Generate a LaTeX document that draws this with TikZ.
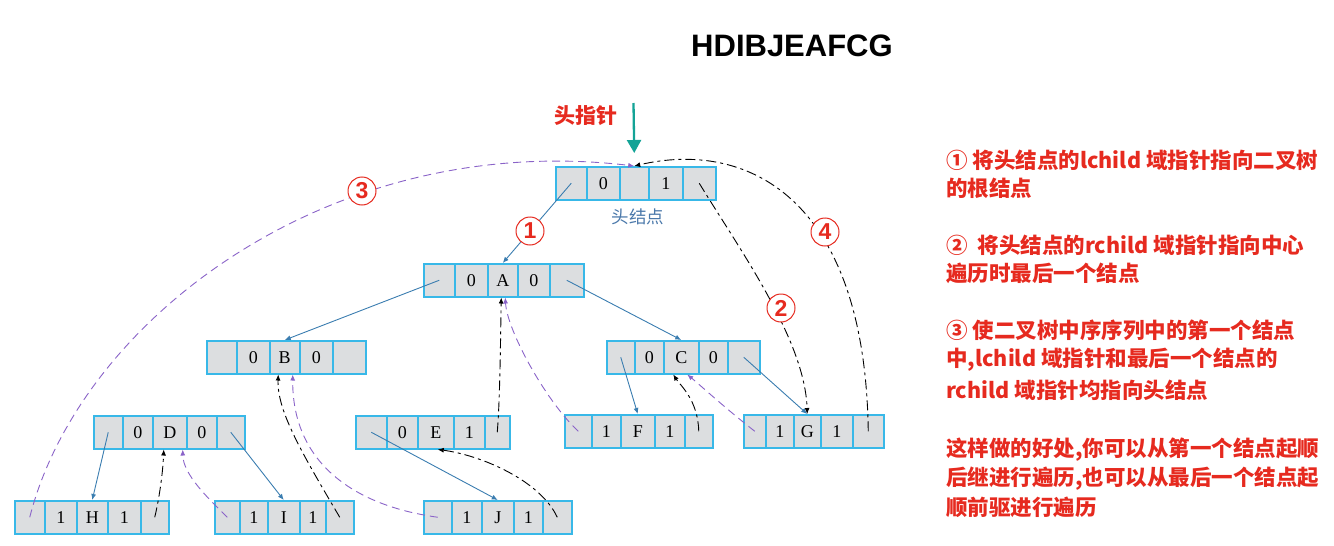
\documentclass[tikz,border=0pt]{standalone}
\usepackage{fontspec}
\setmainfont{Liberation Serif}
\newfontfamily\sans{Liberation Sans}
\newfontfamily\cjk{Noto Sans CJK SC}
\usetikzlibrary{arrows.meta}
\definecolor{cellfill}{HTML}{DCDEE0}
\definecolor{cellline}{HTML}{38B8E8}
\definecolor{treeblue}{HTML}{3A7DB0}
\definecolor{thrpurple}{HTML}{8A63C8}
\definecolor{hred}{HTML}{E62A1F}
\definecolor{tealarrow}{HTML}{13A396}
\definecolor{capblue}{HTML}{4A78AA}
\newcommand\rec[3]{\foreach \i/\a/\b/\t in {#3}{\node[cell, minimum width={(\b-\a)*1pt}, anchor=north west] (#1-\i) at (\a,#2) {\t};}}
\begin{document}
\begin{tikzpicture}[x=1pt,y=-1pt,
 cell/.style={draw=cellline, fill=cellfill, line width=1.5pt, minimum height=33pt, inner sep=0pt, font=\fontsize{18}{18}\selectfont},
 tree/.style={treeblue, line width=0.9pt, -{Latex[length=6pt,width=5pt]}},
 succ/.style={black, line width=0.9pt, dash pattern=on 10pt off 4pt on 3pt off 4pt, -{Latex[length=6pt,width=5pt]}},
 pred/.style={thrpurple, line width=0.9pt, dash pattern=on 8pt off 5pt, -{Latex[length=6pt,width=5pt]}},
 circ/.style={circle, draw=hred, fill=white, line width=1pt, minimum size=28pt, inner sep=0pt, text=hred, font=\sans\bfseries\fontsize{23}{23}\selectfont},
 note/.style={anchor=west, text=hred, font=\cjk\bfseries\fontsize{21.5}{21.5}\selectfont, inner sep=0pt}]

\useasboundingbox (0,0) rectangle (1334,546);

% title
\node[font=\sans\bfseries\fontsize{31}{31}\selectfont] (title) at (792,46) {HDIBJEAFCG};

% records
\rec{hd}{166}{1/555/586/{},2/586/619/0,3/619/648/{},4/648/682/1,5/682/715/{}}
\rec{A}{263}{1/423/454/{},2/454/487/0,3/487/517/A,4/517/549/0,5/549/583/{}}
\rec{B}{340}{1/206/236/{},2/236/269/0,3/269/299/B,4/299/332/0,5/332/365/{}}
\rec{C}{340}{1/606/634/{},2/634/663/0,3/663/698/C,4/698/727/0,5/727/759/{}}
\rec{D}{415}{1/93/122/{},2/122/152/0,3/152/186/D,4/186/216/0,5/216/244/{}}
\rec{E}{415}{1/355/386/{},2/386/417/0,3/417/453/E,4/453/484/1,5/484/509/{}}
\rec{F}{414}{1/564/591/{},2/591/620/1,3/620/654/F,4/654/684/1,5/684/712/{}}
\rec{G}{414}{1/743/765/{},2/765/793/1,3/793/820/G,4/820/852/1,5/852/883/{}}
\rec{H}{500}{1/14/44/{},2/44/76/1,3/76/107/H,4/107/140/1,5/140/168/{}}
\rec{I}{500}{1/214/239/{},2/239/267/1,3/267/299/I,4/299/325/1,5/325/353/{}}
\rec{J}{500}{1/423/451/{},2/451/481/1,3/481/513/J,4/513/542/1,5/542/571/{}}

% head pointer
\node[font=\cjk\bfseries\fontsize{21}{21}\selectfont, text=hred] (hp) at (585.5,116) {头指针};
\coordinate (hptop) at (633.5,103);
\draw[tealarrow, line width=2.3pt, -{Triangle[length=13pt,width=14pt]}] (hptop) -- ([yshift=13pt]hd-3.north);
\node[font=\cjk\fontsize{17.5}{17.5}\selectfont, text=capblue] (hcap) at (638,217) {头结点};

% tree links
\draw[tree] (hd-1.center) -- (A-3.north);
\draw[tree] (A-1.center) -- (B-3.north);
\draw[tree] (A-5.center) -- (C-3.north);
\draw[tree] (D-1.center) -- (H-3.north);
\draw[tree] (D-5.center) -- (I-3.north);
\draw[tree] (E-1.center) -- (J-3.north);
\draw[tree] (C-1.center) -- (F-3.north);
\draw[tree] (C-5.center) -- (G-3.north);

% threads
\draw[pred] (H-1.center) .. controls (80,320) and (330,130) .. (hd-3.north);
\draw[succ] (G-5.center) .. controls (865,195) and (745,140) .. (hd-3.north);
\draw[succ] (hd-5.center) .. controls (740,250) and (805,340) .. (G-3.north);
\draw[succ] (H-5.center) .. controls (160,495) and (163,470) .. ([xshift=-6pt]D-3.south);
\draw[pred] (I-1.center) .. controls (210,500) and (183,475) .. ([xshift=13pt]D-3.south);
\draw[succ] (I-5.center) .. controls (300,450) and (277,410) .. ([xshift=-6.5pt]B-3.south);
\draw[pred] (J-1.center) .. controls (350,505) and (292,460) .. ([xshift=8pt]B-3.south);
\draw[succ] (J-5.center) .. controls (540,480) and (480,455) .. ([xshift=2pt]E-3.south);
\draw[succ] (E-5.center) .. controls (500,400) and (500.5,340) .. ([xshift=-1.5pt]A-3.south);
\draw[pred] (F-1.center) .. controls (545,400) and (507,330) .. ([xshift=2.5pt]A-3.south);
\draw[succ] (F-5.center) .. controls (698,400) and (680,385) .. ([xshift=-8pt]C-3.south);
\draw[pred] (G-1.center) .. controls (725,408) and (700,385) .. ([xshift=6pt]C-3.south);

% circled labels
\node[circ] (n1) at (530,231) {1};
\node[circ] (n2) at (781,308) {2};
\node[circ] (n3) at (362,191) {3};
\node[circ] (n4) at (825,232) {4};

% notes
\node[note] (t1) at (946,160) {① 将头结点的lchild 域指针指向二叉树};
\node[note] (t2) at (946,188) {的根结点};
\node[note] (t3) at (946,245) {②\ \ 将头结点的rchild 域指针指向中心};
\node[note] (t4) at (946,273) {遍历时最后一个结点};
\node[note] (t5) at (946,330) {③ 使二叉树中序序列中的第一个结点};
\node[note] (t6) at (946,360) {中,lchild 域指针和最后一个结点的};
\node[note] (t7) at (946,390) {rchild 域指针均指向头结点};
\node[note] (t8) at (946,450) {这样做的好处,你可以从第一个结点起顺};
\node[note] (t9) at (946,478.5) {后继进行遍历,也可以从最后一个结点起};
\node[note] (t10) at (946,507) {顺前驱进行遍历};
\end{tikzpicture}
\end{document}
